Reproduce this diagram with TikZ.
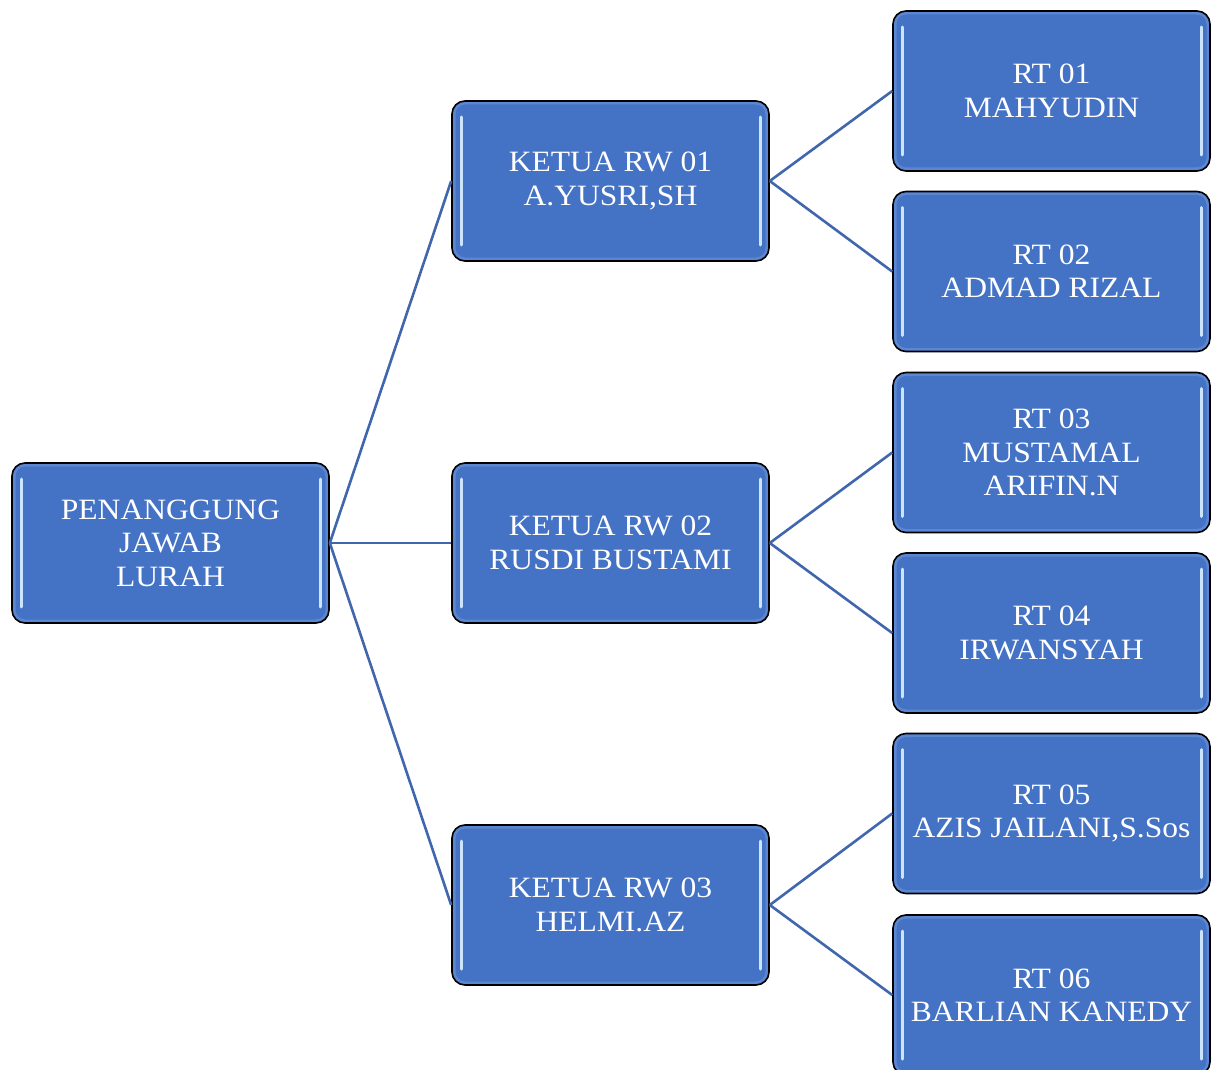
\documentclass[tikz,border=0pt]{standalone}
\usepackage{fontspec}
\setmainfont[FakeStretch=1.07]{Liberation Serif}
\definecolor{boxblue}{RGB}{68,114,196}
\definecolor{linkblue}{RGB}{64,102,174}
\definecolor{hlblue}{RGB}{205,228,255}
\definecolor{glowblue}{RGB}{120,160,225}
\begin{document}
\begin{tikzpicture}[x=1pt,y=-1pt,
  orgbox/.style={rectangle, rounded corners=13pt, minimum width=317pt, minimum height=160pt,
    fill=boxblue, draw=black, line width=1.6pt, text=white, align=center, inner sep=0pt,
    font=\fontsize{29.5}{33.4}\selectfont,
    path picture={
      \draw[glowblue, line width=7pt, opacity=0.45, rounded corners=13pt]
        (path picture bounding box.north west) rectangle (path picture bounding box.south east);
      \draw[hlblue, line width=3pt, line cap=round]
        ([xshift=9pt,yshift=-16pt]path picture bounding box.north west) --
        ([xshift=9pt,yshift=16pt]path picture bounding box.south west);
      \draw[hlblue, line width=3pt, line cap=round]
        ([xshift=-9pt,yshift=-16pt]path picture bounding box.north east) --
        ([xshift=-9pt,yshift=16pt]path picture bounding box.south east);
    }},
  link/.style={draw=linkblue, line width=2.6pt}]
\useasboundingbox (0,0) rectangle (1221,1070);
\begin{scope}
\clip (0,0) rectangle (1221,1070);
\node[orgbox] (root) at (170.5,543) {PENANGGUNG\\JAWAB\\LURAH};
\node[orgbox] (rw1) at (610.5,181) {KETUA RW 01\\A.YUSRI,SH};
\node[orgbox] (rw2) at (610.5,543) {KETUA RW 02\\RUSDI BUSTAMI};
\node[orgbox] (rw3) at (610.5,905) {KETUA RW 03\\HELMI.AZ};
\node[orgbox] (rt1) at (1051.5,91) {RT 01\\MAHYUDIN};
\node[orgbox] (rt2) at (1051.5,271.5) {RT 02\\ADMAD RIZAL};
\node[orgbox] (rt3) at (1051.5,452.5) {RT 03\\MUSTAMAL\\ARIFIN.N};
\node[orgbox] (rt4) at (1051.5,633) {RT 04\\IRWANSYAH};
\node[orgbox] (rt5) at (1051.5,813.5) {RT 05\\AZIS JAILANI,S.Sos};
\node[orgbox] (rt6) at (1051.5,995) {RT 06\\BARLIAN KANEDY};
\draw[link] (root.east) -- (rw1.west);
\draw[link] (root.east) -- (rw2.west);
\draw[link] (root.east) -- (rw3.west);
\draw[link] (rw1.east) -- (rt1.west);
\draw[link] (rw1.east) -- (rt2.west);
\draw[link] (rw2.east) -- (rt3.west);
\draw[link] (rw2.east) -- (rt4.west);
\draw[link] (rw3.east) -- (rt5.west);
\draw[link] (rw3.east) -- (rt6.west);
\end{scope}
\end{tikzpicture}
\end{document}
